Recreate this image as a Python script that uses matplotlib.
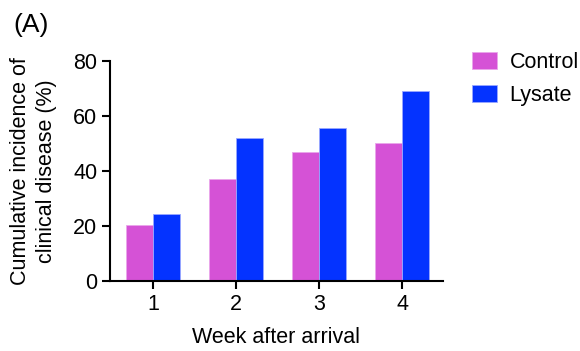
import numpy as np
import matplotlib
matplotlib.use("Agg")
import matplotlib.pyplot as plt
from matplotlib.patches import Patch

plt.rcParams['font.family'] = ['Liberation Sans', 'DejaVu Sans']

weeks = [1, 2, 3, 4]
control = [20.3, 37.0, 47.0, 50.3]
lysate = [24.4, 52.0, 55.5, 69.2]
series_names = ["Control", "Lysate"]
yticks = [0, 20, 40, 60, 80]

CONTROL_COLOR = "#D552D6"
LYSATE_COLOR = "#0433FF"
BAR_W = 0.325
FS = 15.5

fig = plt.figure(figsize=(5.8, 3.51), dpi=100)
ax = fig.add_axes([110 / 580, 70 / 351, 333 / 580, 220 / 351])

x = np.array(weeks, dtype=float)
ax.bar(x - BAR_W / 2, control, width=BAR_W, color=CONTROL_COLOR,
       edgecolor="#E9A6EA", linewidth=0.6)
ax.bar(x + BAR_W / 2, lysate, width=BAR_W, color=LYSATE_COLOR,
       edgecolor="#9AA8FF", linewidth=0.6)

ax.set_xlim(0.48, 4.49)
ax.set_ylim(0, 80)
ax.set_xticks(weeks)
ax.set_yticks(yticks)
ax.tick_params(axis="both", direction="out", length=6, width=1.5,
               labelsize=FS, pad=3, color="black")

for side in ("top", "right"):
    ax.spines[side].set_visible(False)
for side in ("left", "bottom"):
    ax.spines[side].set_linewidth(1.5)

ax.set_xlabel("Week after arrival", fontsize=FS, labelpad=9)
ax.set_ylabel("Cumulative incidence of\nclinical disease (%)", fontsize=FS,
              labelpad=12, linespacing=1.3)

handles = [Patch(facecolor=CONTROL_COLOR, edgecolor="#E9A6EA", linewidth=0.6),
           Patch(facecolor=LYSATE_COLOR, edgecolor="#9AA8FF", linewidth=0.6)]
fig.legend(handles, series_names, loc="upper left",
           bbox_to_anchor=(472 / 580, 1 - 52 / 351), frameon=False,
           fontsize=FS, borderpad=0, borderaxespad=0,
           handlelength=1.15, handleheight=0.8,
           handletextpad=0.6, labelspacing=0.55)

fig.text(13 / 580, 1 - 25 / 351, "(A)", fontsize=19, va="center", ha="left")

fig.savefig("out.png", dpi=100)
